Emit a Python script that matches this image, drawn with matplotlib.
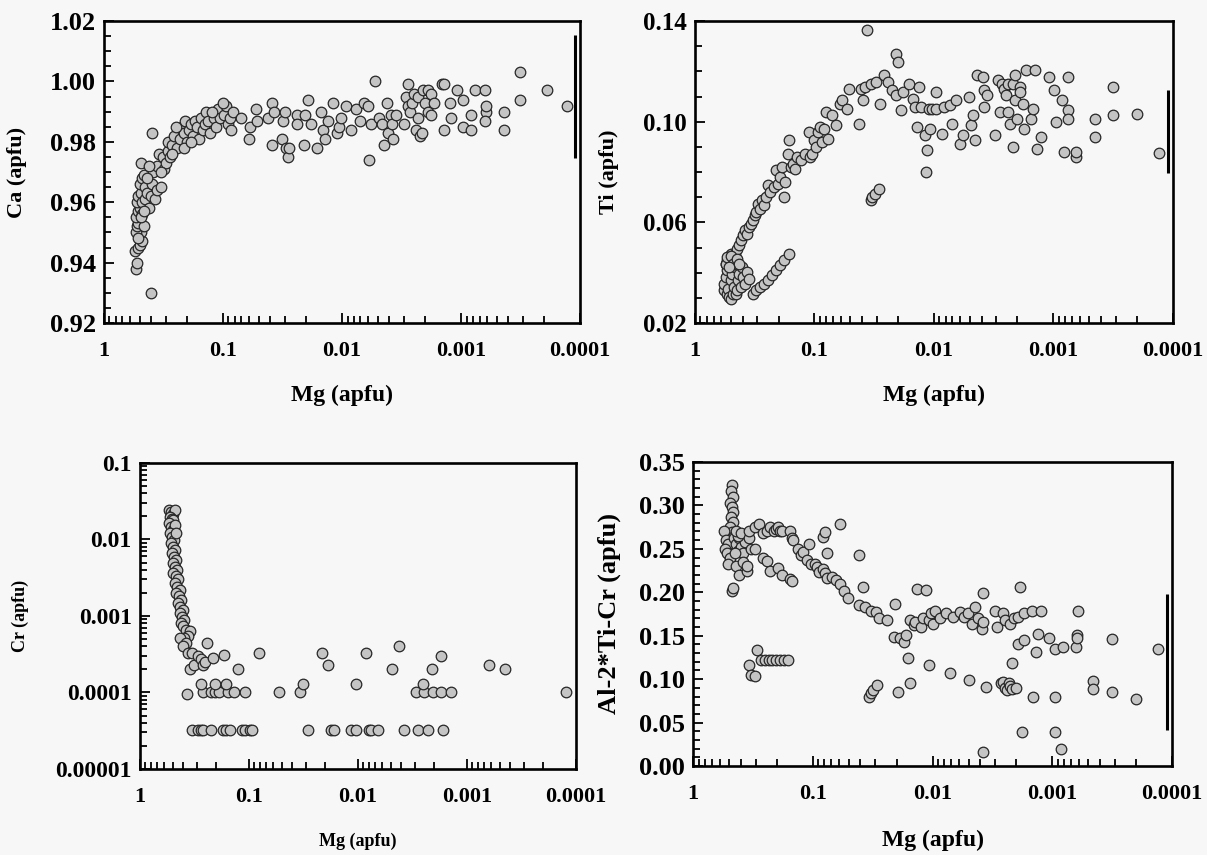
import matplotlib
matplotlib.use("Agg")
import matplotlib.pyplot as plt
from matplotlib.ticker import LogLocator, MultipleLocator, NullFormatter

plt.rcParams['font.family'] = ['Liberation Serif', 'DejaVu Serif']
plt.rcParams['font.weight'] = 'bold'

#=============================================================================
# Data (Mg on an inverted log axis)
#=============================================================================
ca_mg = [0.541, 0.529, 0.553, 0.521, 0.503, 0.477, 0.491, 0.541, 0.529, 0.514,
         0.466, 0.537, 0.521, 0.503, 0.484, 0.529, 0.514, 0.491, 0.477, 0.456,
         0.503, 0.484, 0.466, 0.491, 0.450, 0.433, 0.418, 0.402, 0.394, 0.373,
         0.360, 0.334, 0.388, 0.360, 0.347, 0.322, 0.311, 0.299, 0.288, 0.278,
         0.288, 0.268, 0.258, 0.245, 0.231, 0.222, 0.214, 0.207, 0.199, 0.192,
         0.185, 0.178, 0.172, 0.166, 0.160, 0.154, 0.148, 0.143, 0.138, 0.133,
         0.128, 0.119, 0.114, 0.110, 0.106, 0.0986, 0.0914, 0.088, 0.095, 0.394,
         0.402, 0.514, 0.491, 0.466, 0.433, 0.418, 0.334, 0.268, 0.249, 0.214,
         0.185,
         0.123, 0.1, 0.082, 0.085, 0.071, 0.059, 0.060, 0.053, 0.052, 0.042,
         0.0385, 0.0374, 0.039, 0.0313, 0.0301, 0.0318, 0.0294, 0.0286, 0.028, 0.0241,
         0.0241, 0.0208, 0.0204, 0.0193, 0.0184, 0.0161, 0.0149, 0.0144, 0.0138, 0.0131,
         0.0119, 0.0111, 0.0107, 0.0103, 0.0092, 0.0084, 0.0077, 0.0070, 0.0066, 0.0061,
         0.0059, 0.0057, 0.0053, 0.0049, 0.0046, 0.0044, 0.0042, 0.0041, 0.0039, 0.0038,
         0.0037, 0.0035, 0.0030, 0.0029, 0.0028, 0.0028, 0.0027, 0.0026, 0.0025, 0.0024,
         0.0023, 0.0023, 0.0022, 0.00215, 0.0021, 0.0020, 0.0019, 0.0019, 0.0018, 0.0018,
         0.0017, 0.00145, 0.0014, 0.0014, 0.00125, 0.00122, 0.00108, 0.00096, 0.00096, 0.00082,
         0.00082, 0.00076, 0.00063, 0.00062, 0.00062, 0.00063, 0.00044, 0.00044, 0.00032, 0.00032,
         0.00019, 0.00013]
ca_val = [0.938, 0.940, 0.944, 0.945, 0.946, 0.947, 0.950, 0.950, 0.952, 0.953,
          0.952, 0.955, 0.957, 0.958, 0.956, 0.960, 0.962, 0.963, 0.960, 0.961,
          0.966, 0.968, 0.969, 0.973, 0.965, 0.963, 0.958, 0.962, 0.966, 0.961,
          0.964, 0.965, 0.970, 0.972, 0.976, 0.975, 0.971, 0.973, 0.977, 0.975,
          0.980, 0.979, 0.982, 0.978, 0.981, 0.985, 0.983, 0.987, 0.980, 0.984,
          0.986, 0.982, 0.987, 0.985, 0.981, 0.988, 0.984, 0.986, 0.990, 0.987,
          0.983, 0.988, 0.985, 0.991, 0.988, 0.989, 0.986, 0.988, 0.992, 0.983,
          0.930, 0.948, 0.955, 0.957, 0.968, 0.972, 0.970, 0.976, 0.985, 0.978,
          0.980,
          0.990, 0.993, 0.990, 0.984, 0.988, 0.985, 0.981, 0.991, 0.987, 0.988,
          0.993, 0.990, 0.979, 0.987, 0.990, 0.981, 0.978, 0.975, 0.978, 0.989,
          0.986, 0.979, 0.989, 0.994, 0.986, 0.978, 0.990, 0.984, 0.981, 0.987,
          0.993, 0.983, 0.985, 0.988, 0.992, 0.984, 0.991, 0.987, 0.993, 0.992,
          0.974, 0.986, 1.000, 0.988, 0.986, 0.979, 0.993, 0.983, 0.989, 0.986,
          0.981, 0.989, 0.986, 0.995, 0.999, 0.992, 0.990, 0.993, 0.996, 0.984,
          0.988, 0.995, 0.982, 0.983, 0.997, 0.993, 0.997, 0.990, 0.989, 0.996,
          0.993, 0.999, 0.999, 0.984, 0.993, 0.988, 0.997, 0.994, 0.985, 0.989,
          0.984, 0.997, 0.997, 0.990, 0.992, 0.987, 0.990, 0.984, 1.003, 0.994,
          0.997, 0.992]

ti_mg = [0.329, 0.306, 0.284, 0.263, 0.245, 0.227, 0.211, 0.196, 0.181, 0.162,
         0.555, 0.535, 0.515, 0.496, 0.478, 0.461, 0.444, 0.428, 0.412, 0.397,
         0.382, 0.368, 0.355, 0.342, 0.329, 0.317, 0.306, 0.295, 0.284, 0.273,
         0.263, 0.254, 0.245, 0.236, 0.219, 0.211, 0.203, 0.196, 0.188, 0.181,
         0.175, 0.168, 0.162, 0.156, 0.151, 0.145, 0.140, 0.130, 0.120, 0.112,
         0.108, 0.104, 0.100, 0.0963, 0.0928, 0.0894, 0.0862, 0.0830, 0.0800, 0.0770,
         0.0715, 0.0664, 0.0616, 0.0594, 0.0531, 0.0511, 0.0424, 0.0409, 0.0394, 0.0380,
         0.0366, 0.0339, 0.0304, 0.0282, 0.0262, 0.0243, 0.0225, 0.0209, 0.0201, 0.0209,
         0.0187, 0.0180, 0.0161, 0.0150, 0.0144, 0.0139, 0.0134, 0.0129, 0.0120, 0.0117,
         0.0115, 0.0111, 0.0107, 0.0103, 0.0097, 0.0096, 0.0086, 0.0082, 0.0074, 0.0071,
         0.0066, 0.0061, 0.0057, 0.0051, 0.0049, 0.0047, 0.0045, 0.0044, 0.0039, 0.0038,
         0.0038, 0.0036, 0.0031, 0.0029, 0.0028, 0.0027, 0.0026, 0.0025, 0.0024, 0.0024,
         0.0023, 0.0022, 0.0022, 0.0021, 0.0021, 0.0020, 0.0019, 0.0019, 0.0018, 0.00175,
         0.0017, 0.00154, 0.00148, 0.00143, 0.00138, 0.00128, 0.0011, 0.00099, 0.00095, 0.00085,
         0.00082, 0.00076, 0.00076, 0.00076, 0.00065, 0.00065, 0.00045, 0.00045, 0.00032, 0.00032,
         0.0002, 0.00013,
         0.0339, 0.0327, 0.0310, 0.0288,
         0.576, 0.568, 0.555, 0.543, 0.535, 0.527, 0.515, 0.504, 0.496, 0.489,
         0.478, 0.468, 0.461, 0.454, 0.444, 0.434, 0.428, 0.412, 0.403, 0.397,
         0.382, 0.368, 0.355, 0.555, 0.535, 0.496, 0.478, 0.444, 0.428, 0.515]
ti_val = [0.0317, 0.033, 0.0343, 0.0356, 0.037, 0.039, 0.041, 0.043, 0.045, 0.0475,
          0.0436, 0.045, 0.0462, 0.0475, 0.0462, 0.0475, 0.0495, 0.051, 0.0528, 0.0548,
          0.0568, 0.0555, 0.0582, 0.0595, 0.0608, 0.0628, 0.064, 0.0674, 0.0654, 0.0687,
          0.0667, 0.070, 0.0747, 0.072, 0.074, 0.0807, 0.0754, 0.078, 0.082, 0.070,
          0.076, 0.0873, 0.0926, 0.082, 0.0833, 0.0813, 0.086, 0.0846, 0.0873, 0.0959,
          0.086, 0.0873, 0.0926, 0.090, 0.0959, 0.0979, 0.0919, 0.0972, 0.1038, 0.0932,
          0.1025, 0.0985, 0.1072, 0.1085, 0.1052, 0.1131, 0.0992, 0.1131, 0.1085, 0.1138,
          0.1366, 0.1151, 0.1158, 0.1072, 0.1184, 0.1158, 0.1125, 0.127, 0.1237, 0.1105,
          0.1045, 0.1118, 0.1151, 0.1091, 0.1058, 0.0979, 0.1138, 0.1058, 0.0946, 0.080,
          0.0886, 0.1052, 0.0972, 0.1052, 0.1118, 0.1052, 0.0952, 0.1058, 0.1065, 0.0992,
          0.1085, 0.0913, 0.0946, 0.1098, 0.0985, 0.1025, 0.0926, 0.1184, 0.1177, 0.1125,
          0.1058, 0.1105, 0.0946, 0.1164, 0.1038, 0.1151, 0.1131, 0.1105, 0.1151, 0.1038,
          0.0992, 0.1151, 0.090, 0.1184, 0.1085, 0.1012, 0.1138, 0.1118, 0.1072, 0.0972,
          0.1204, 0.1012, 0.1052, 0.1204, 0.0893, 0.0939, 0.1177, 0.1125, 0.0999, 0.1085,
          0.088, 0.1177, 0.1045, 0.1012, 0.086, 0.088, 0.1012, 0.0939, 0.1138, 0.1025,
          0.1032, 0.0876,
          0.0687, 0.070, 0.0714, 0.0734,
          0.033, 0.0356, 0.0383, 0.041, 0.0317, 0.0336, 0.0303, 0.0297, 0.037, 0.0396,
          0.0317, 0.0343, 0.0423, 0.0317, 0.033, 0.037, 0.0396, 0.0343, 0.0423, 0.0383,
          0.0356, 0.0403, 0.0376, 0.0436, 0.0462, 0.0468, 0.0436, 0.0456, 0.0436, 0.0423]

cr_mg = [0.544, 0.523, 0.502, 0.482, 0.536, 0.510, 0.494, 0.544, 0.523, 0.502,
         0.482, 0.531, 0.510, 0.490, 0.471, 0.519, 0.494, 0.478, 0.510, 0.486,
         0.467, 0.502, 0.478, 0.455, 0.494, 0.471, 0.448, 0.482, 0.455, 0.434,
         0.463, 0.441, 0.420, 0.448, 0.427, 0.407, 0.434, 0.410, 0.394, 0.420,
         0.400, 0.378, 0.348, 0.363, 0.394, 0.427, 0.378,
         0.400, 0.363, 0.348, 0.335, 0.321, 0.296, 0.273, 0.262, 0.252, 0.242,
         0.214, 0.168, 0.126, 0.081, 0.0212, 0.0188, 0.0084, 0.0049, 0.0042, 0.00172,
         0.00209, 0.00063, 0.00045,
         0.369, 0.262, 0.225, 0.204, 0.190, 0.157, 0.138, 0.108, 0.0531, 0.0343,
         0.00294, 0.00247, 0.00204, 0.00172, 0.00139, 0.000123,
         0.278, 0.207, 0.164, 0.0321, 0.0104, 0.00252,
         0.332, 0.296, 0.278, 0.262, 0.225, 0.175, 0.164, 0.148, 0.115, 0.108,
         0.0969, 0.0929, 0.0289, 0.0178, 0.0167, 0.0116, 0.0104, 0.0079, 0.0076, 0.0066,
         0.0038, 0.0028, 0.00227, 0.00165]
cr_val = [0.0241, 0.0230, 0.0218, 0.0241, 0.0198, 0.0188, 0.0179, 0.0162, 0.0146, 0.0132,
          0.0154, 0.0120, 0.0108, 0.0098, 0.0120, 0.0089, 0.0080, 0.0073, 0.0066, 0.0059,
          0.0054, 0.0049, 0.0044, 0.0040, 0.0036, 0.0033, 0.0030, 0.0027, 0.0024, 0.0022,
          0.0020, 0.0018, 0.0016, 0.00146, 0.00132, 0.0012, 0.00108, 0.00098, 0.00089, 0.0008,
          0.00073, 0.00066, 0.00063, 0.00054, 0.00051, 0.00051, 0.00044,
          0.0004, 0.00033, 0.0002, 0.00033, 0.00023, 0.0003, 0.00027, 0.00023, 0.00025, 0.00044,
          0.00028, 0.00031, 0.0002, 0.00033, 0.00033, 0.00023, 0.00033, 0.0002, 0.0004, 0.0003,
          0.0002, 0.00023, 0.0002,
          0.000095, 0.0001, 0.0001, 0.0001, 0.0001, 0.0001, 0.0001, 0.0001, 0.0001, 0.0001,
          0.0001, 0.0001, 0.0001, 0.0001, 0.0001, 0.0001,
          0.00013, 0.00013, 0.00013, 0.00013, 0.00013, 0.00013,
          3.2e-5, 3.2e-5, 3.2e-5, 3.2e-5, 3.2e-5, 3.2e-5, 3.2e-5, 3.2e-5, 3.2e-5, 3.2e-5,
          3.2e-5, 3.2e-5, 3.2e-5, 3.2e-5, 3.2e-5, 3.2e-5, 3.2e-5, 3.2e-5, 3.2e-5, 3.2e-5,
          3.2e-5, 3.2e-5, 3.2e-5, 3.2e-5]

al_mg = [0.475, 0.482, 0.468, 0.489, 0.475, 0.461, 0.482, 0.468, 0.489, 0.475,
         0.461, 0.482, 0.468, 0.489, 0.475, 0.468,
         0.552, 0.531, 0.512, 0.543, 0.520, 0.493, 0.512, 0.458, 0.441, 0.425,
         0.410, 0.395, 0.380, 0.366, 0.441, 0.410, 0.353, 0.380, 0.425, 0.448,
         0.435, 0.395, 0.340, 0.328,
         0.340, 0.304, 0.282, 0.262, 0.243, 0.226, 0.210, 0.202, 0.195, 0.188,
         0.181, 0.156, 0.150, 0.145,
         0.353, 0.304, 0.262, 0.243, 0.226, 0.195, 0.181, 0.156, 0.150,
         0.134, 0.125, 0.120, 0.111, 0.107, 0.103, 0.096, 0.0925, 0.0891, 0.0828,
         0.0797, 0.0768, 0.0828, 0.0797, 0.0768, 0.0687, 0.0638, 0.0592, 0.0592, 0.055,
         0.051, 0.0408, 0.0408, 0.0379, 0.0365, 0.0327, 0.0299, 0.0281, 0.0242, 0.0212,
         0.0206, 0.0187, 0.0173, 0.0167, 0.0155, 0.0144, 0.0139, 0.0124, 0.012, 0.0134,
         0.0113, 0.0107, 0.0103, 0.0096, 0.0099, 0.0086, 0.0077, 0.0068, 0.0059, 0.0055,
         0.0051, 0.0047, 0.0044, 0.0042, 0.0039, 0.0038, 0.0038, 0.003, 0.0029, 0.0026,
         0.0025, 0.00224, 0.00208, 0.00193, 0.00186, 0.00173, 0.00149, 0.00124,
         0.00193, 0.00173, 0.00138, 0.00133, 0.00106, 0.00095, 0.00082, 0.00064, 0.00062, 0.00062,
         0.00061, 0.00032, 0.00013, 0.00216,
         0.293, 0.340, 0.328, 0.304, 0.272, 0.252, 0.234, 0.218, 0.202, 0.188,
         0.174, 0.162, 0.0339, 0.0327, 0.0315, 0.0292, 0.0194, 0.0159, 0.0155, 0.0107,
         0.0071, 0.005, 0.0038, 0.0036, 0.0027, 0.0026, 0.0025, 0.0024, 0.0023, 0.00224,
         0.00216, 0.002, 0.00179, 0.00146, 0.00095, 0.00095, 0.00085, 0.00046, 0.00046, 0.00032,
         0.0002]
al_val = [0.323, 0.317, 0.310, 0.303, 0.298, 0.292, 0.287, 0.281, 0.275, 0.269,
          0.264, 0.256, 0.248, 0.241, 0.202, 0.205,
          0.270, 0.260, 0.255, 0.250, 0.245, 0.240, 0.232, 0.262, 0.255, 0.248,
          0.262, 0.252, 0.245, 0.258, 0.230, 0.220, 0.225, 0.235, 0.265, 0.245,
          0.270, 0.268, 0.262, 0.250,
          0.271, 0.275, 0.279, 0.268, 0.271, 0.275, 0.271, 0.273, 0.275, 0.271,
          0.271, 0.271, 0.262, 0.260,
          0.230, 0.250, 0.240, 0.236, 0.225, 0.228, 0.220, 0.215, 0.213,
          0.250, 0.243, 0.246, 0.237, 0.256, 0.233, 0.233, 0.229, 0.223, 0.227,
          0.222, 0.216, 0.264, 0.269, 0.245, 0.218, 0.214, 0.279, 0.210, 0.202,
          0.193, 0.243, 0.185, 0.206, 0.183, 0.179, 0.177, 0.170, 0.168, 0.149,
          0.187, 0.147, 0.143, 0.151, 0.168, 0.162, 0.166, 0.160, 0.170, 0.204,
          0.203, 0.168, 0.176, 0.179, 0.164, 0.170, 0.176, 0.172, 0.177, 0.172,
          0.176, 0.164, 0.183, 0.170, 0.158, 0.166, 0.199, 0.179, 0.160, 0.176,
          0.168, 0.164, 0.170, 0.172, 0.206, 0.176, 0.179, 0.179,
          0.141, 0.145, 0.131, 0.152, 0.147, 0.135, 0.137, 0.137, 0.151, 0.147,
          0.179, 0.146, 0.135, 0.119,
          0.133, 0.116, 0.105, 0.1035, 0.122, 0.122, 0.122, 0.122, 0.122, 0.122,
          0.122, 0.122, 0.080, 0.0835, 0.0874, 0.093, 0.0855, 0.124, 0.095, 0.116,
          0.1066, 0.099, 0.0165, 0.0905, 0.095, 0.097, 0.090, 0.0874, 0.095, 0.092,
          0.089, 0.090, 0.039, 0.080, 0.080, 0.039, 0.019, 0.098, 0.089, 0.0855,
          0.0767]

# analytical uncertainty bars drawn at the far right of three panels
err_mg = [0.00011, 0.00011, 0.00011]
err_mid = [0.995, 0.096, 0.12]
err_half = [0.0205, 0.0165, 0.0785]

mg_ticks = [1, 0.1, 0.01, 0.001, 0.0001]
mg_labels = ['1', '0.1', '0.01', '0.001', '0.0001']
cr_ticks = [0.1, 0.01, 0.001, 0.0001, 0.00001]
cr_labels = ['0.1', '0.01', '0.001', '0.0001', '0.00001']

#=============================================================================
fig = plt.figure(figsize=(12.07, 8.55), dpi=100, facecolor='#f7f7f7')
ax1 = fig.add_axes([0.0862, 0.6222, 0.3944, 0.3532])
ax2 = fig.add_axes([0.5758, 0.6222, 0.3960, 0.3532])
ax3 = fig.add_axes([0.1160, 0.1006, 0.3612, 0.3579])
ax4 = fig.add_axes([0.5742, 0.1041, 0.3969, 0.3556])


def style_axis(ax, xlabel, ylabel, xlab_y, ylab_x, xlab_size=17, ylab_size=16, ytick_size=19):
    # Common look: inverted log Mg axis, ticks inside, heavy frame.
    ax.set_facecolor('#f7f7f7')
    ax.set_xscale('log')
    ax.set_xlim(1, 0.0001)
    ax.set_xticks(mg_ticks, mg_labels)
    ax.xaxis.set_minor_locator(LogLocator(base=10, subs=range(2, 10)))
    ax.xaxis.set_minor_formatter(NullFormatter())
    ax.tick_params(axis='both', which='both', direction='in', width=1.3,
                   top=False, right=False)
    ax.tick_params(axis='x', which='major', length=7, pad=13, labelsize=16)
    ax.tick_params(axis='x', which='minor', length=5)
    ax.tick_params(axis='y', which='major', length=7, pad=6, labelsize=ytick_size)
    ax.tick_params(axis='y', which='minor', length=5)
    for s in ax.spines.values():
        s.set_linewidth(1.9)
    ax.set_xlabel(xlabel, fontsize=xlab_size, fontweight='bold')
    ax.set_ylabel(ylabel, fontsize=ylab_size, fontweight='bold')
    ax.xaxis.set_label_coords(0.5, xlab_y)
    ax.yaxis.set_label_coords(ylab_x, 0.5)


def points(ax, x, y):
    ax.scatter(x, y, s=58, c='#c4c4c4', edgecolors='#262626', linewidths=0.9, zorder=3)


# Ca
points(ax1, ca_mg, ca_val)
ax1.errorbar(err_mg[0], err_mid[0], yerr=err_half[0], fmt='none', ecolor='black', elinewidth=2.2, capsize=0)
style_axis(ax1, 'Mg (apfu)', 'Ca (apfu)', -0.205, -0.162)
ax1.set_ylim(0.92, 1.02)
ax1.set_yticks([0.92, 0.94, 0.96, 0.98, 1.00, 1.02])
ax1.yaxis.set_major_formatter(lambda v, p: f'{v:.2f}')
ax1.yaxis.set_minor_locator(MultipleLocator(0.005))

# Ti
points(ax2, ti_mg, ti_val)
ax2.errorbar(err_mg[1], err_mid[1], yerr=err_half[1], fmt='none', ecolor='black', elinewidth=2.2, capsize=0)
style_axis(ax2, 'Mg (apfu)', 'Ti (apfu)', -0.205, -0.159, ytick_size=18)
ax2.set_ylim(0.02, 0.14)
ax2.set_yticks([0.02, 0.06, 0.10, 0.14])
ax2.yaxis.set_major_formatter(lambda v, p: f'{v:.2f}')
ax2.yaxis.set_minor_locator(MultipleLocator(0.01))

# Cr
points(ax3, cr_mg, cr_val)
style_axis(ax3, 'Mg (apfu)', 'Cr (apfu)', -0.209, -0.255, xlab_size=13, ylab_size=13, ytick_size=17)
ax3.set_yscale('log')
ax3.set_ylim(0.00001, 0.1)
ax3.set_yticks(cr_ticks, cr_labels)
ax3.yaxis.set_minor_locator(LogLocator(base=10, subs=range(2, 10)))
ax3.yaxis.set_minor_formatter(NullFormatter())
ax3.tick_params(axis='y', which='minor', length=5)

# Al-2Ti-Cr
points(ax4, al_mg, al_val)
ax4.errorbar(err_mg[2], err_mid[2], yerr=err_half[2], fmt='none', ecolor='black', elinewidth=2.2, capsize=0)
style_axis(ax4, 'Mg (apfu)', 'Al-2*Ti-Cr (apfu)', -0.21, -0.150, ylab_size=19)
ax4.set_ylim(0, 0.35)
ax4.set_yticks([0, 0.05, 0.10, 0.15, 0.20, 0.25, 0.30, 0.35])
ax4.yaxis.set_major_formatter(lambda v, p: f'{v:.2f}')
ax4.yaxis.set_minor_locator(MultipleLocator(0.01))

fig.savefig('out.png', dpi=100, facecolor=fig.get_facecolor())
